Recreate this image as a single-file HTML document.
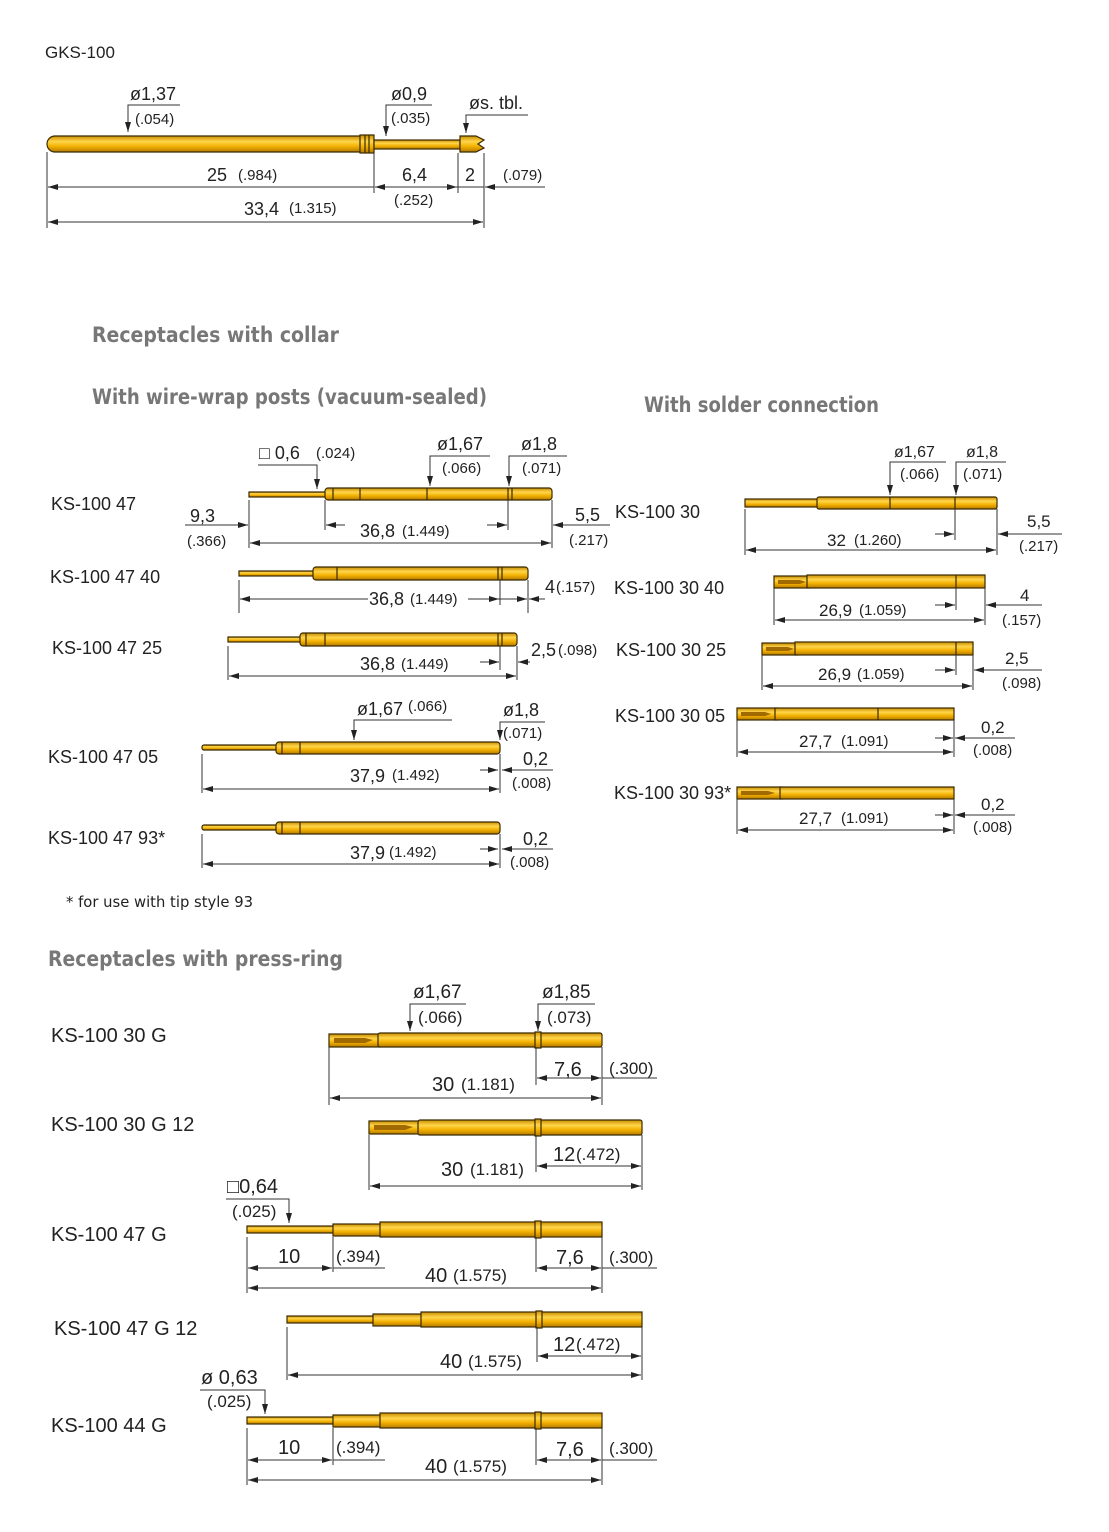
<!DOCTYPE html>
<html><head><meta charset="utf-8"><style>
body{margin:0;background:#fff}
svg{display:block}
text{font-family:"Liberation Sans","DejaVu Sans",sans-serif;fill:#222}
.t{font-size:18px}.p{font-size:15px}.l{font-size:18px}
.h{font-family:"DejaVu Sans","Liberation Sans",sans-serif;font-size:21px;fill:#777;font-weight:bold}
.d{stroke:#333;stroke-width:1;fill:none}
.g{fill:url(#gold);stroke:#3a2a00;stroke-width:1.2}
.k{stroke:#3a2a00;stroke-width:1.2}
</style></head><body>
<svg width="1109" height="1532" viewBox="0 0 1109 1532" xmlns="http://www.w3.org/2000/svg">
<defs>
<linearGradient id="gold" x1="0" y1="0" x2="0" y2="1">
<stop offset="0" stop-color="#c98c00"/><stop offset="0.35" stop-color="#ffd54a"/><stop offset="0.65" stop-color="#f2b000"/><stop offset="1" stop-color="#b57a00"/>
</linearGradient>
<marker id="a" viewBox="0 0 10 6" refX="10" refY="3" markerWidth="10" markerHeight="6" orient="auto-start-reverse" markerUnits="userSpaceOnUse"><path d="M0,0 L10,3 L0,6z" fill="#222"/></marker>
</defs>

<!-- GKS-100 -->
<text x="45" y="58" style="font-size:17px">GKS-100</text>
<path class="g" d="M55,136 H362 V152 H55 A8,8 0 0 1 55,136z"/>
<rect class="g" x="360" y="135" width="14" height="18"/>
<line class="k" x1="365" y1="135" x2="365" y2="153"/><line class="k" x1="369" y1="135" x2="369" y2="153"/>
<rect class="g" x="374" y="140" width="86" height="9"/>
<path class="g" d="M460,136 H476 L484,140 L478,144 L484,148 L476,152 H460z"/>
<text x="130" y="100" class="t">ø1,37</text><text x="135" y="124" class="p">(.054)</text>
<path class="d" d="M180,105 H128 V132" marker-end="url(#a)"/>
<text x="391" y="100" class="t">ø0,9</text><text x="391" y="123" class="p">(.035)</text>
<path class="d" d="M432,105 H386 V136" marker-end="url(#a)"/>
<text x="469" y="109" class="t">øs. tbl.</text>
<path class="d" d="M528,115 H466 V133" marker-end="url(#a)"/>
<path class="d" d="M47,152 V228 M374,153 V193 M458,153 V193 M484,153 V228"/>
<line class="d" x1="48" y1="187" x2="374" y2="187" marker-start="url(#a)"/>
<line class="d" x1="375" y1="187" x2="457" y2="187" marker-start="url(#a)" marker-end="url(#a)"/>
<line class="d" x1="440" y1="187" x2="484" y2="187"/>
<line class="d" x1="545" y1="187" x2="485" y2="187" marker-end="url(#a)"/>
<line class="d" x1="48" y1="222" x2="483" y2="222" marker-start="url(#a)" marker-end="url(#a)"/>
<text x="207" y="181" class="t">25</text><text x="238" y="180" class="p">(.984)</text>
<text x="402" y="181" class="t">6,4</text><text x="394" y="205" class="p">(.252)</text>
<text x="465" y="181" class="t">2</text><text x="503" y="180" class="p">(.079)</text>
<text x="244" y="215" class="t">33,4</text><text x="289" y="213" class="p">(1.315)</text>

<text x="92" y="342" class="h" textLength="247" lengthAdjust="spacingAndGlyphs">Receptacles with collar</text>
<text x="92" y="404" class="h" textLength="395" lengthAdjust="spacingAndGlyphs">With wire-wrap posts (vacuum-sealed)</text>
<text x="644" y="412" class="h" textLength="235" lengthAdjust="spacingAndGlyphs">With solder connection</text>

<!-- KS-100 47 -->
<text x="51" y="510" class="l">KS-100 47</text>
<rect class="g" x="249" y="492" width="78" height="5"/>
<rect class="g" x="325" y="488" width="227" height="12" rx="3"/>
<path class="k" d="M333,488 V500 M360,488 V500 M427,488 V500 M508,488 V500 M512,488 V500"/>
<text x="259" y="459" class="t">□ 0,6</text><text x="316" y="458" class="p">(.024)</text>
<path class="d" d="M258,465 H317 V489" marker-end="url(#a)"/>
<text x="437" y="450" class="t">ø1,67</text><text x="442" y="473" class="p">(.066)</text>
<path class="d" d="M490,456 H430 V486" marker-end="url(#a)"/>
<text x="521" y="450" class="t">ø1,8</text><text x="522" y="473" class="p">(.071)</text>
<path class="d" d="M567,456 H509 V486" marker-end="url(#a)"/>
<path class="d" d="M249,500 V548 M325,500 V530 M508,500 V530 M552,500 V548"/>
<line class="d" x1="185" y1="525" x2="248" y2="525" marker-end="url(#a)"/>
<line class="d" x1="326" y1="525" x2="345" y2="525" marker-start="url(#a)"/>
<line class="d" x1="487" y1="525" x2="507" y2="525" marker-end="url(#a)"/>
<line class="d" x1="610" y1="525" x2="553" y2="525" marker-end="url(#a)"/>
<line class="d" x1="250" y1="543" x2="551" y2="543" marker-start="url(#a)" marker-end="url(#a)"/>
<text x="190" y="522" class="t">9,3</text><text x="187" y="546" class="p">(.366)</text>
<text x="360" y="537" class="t">36,8</text><text x="402" y="536" class="p">(1.449)</text>
<text x="575" y="521" class="t">5,5</text><text x="569" y="545" class="p">(.217)</text>

<!-- KS-100 47 40 -->
<text x="50" y="583" class="l">KS-100 47 40</text>
<rect class="g" x="239" y="571" width="76" height="5"/>
<rect class="g" x="313" y="567" width="215" height="13" rx="3"/>
<path class="k" d="M337,567 V580 M498,567 V580 M502,567 V580"/>
<path class="d" d="M239,580 V613 M500,580 V605 M528,580 V613"/>
<line class="d" x1="240" y1="599" x2="527" y2="599" marker-start="url(#a)" marker-end="url(#a)"/>
<line class="d" x1="475" y1="599" x2="499" y2="599" marker-end="url(#a)"/>
<line class="d" x1="545" y1="599" x2="529" y2="599" marker-end="url(#a)"/>
<rect x="368" y="588" width="100" height="20" fill="#fff"/>
<text x="369" y="605" class="t">36,8</text><text x="410" y="604" class="p">(1.449)</text>
<text x="545" y="593" class="t">4</text><text x="556" y="592" class="p">(.157)</text>

<!-- KS-100 47 25 -->
<text x="52" y="654" class="l">KS-100 47 25</text>
<rect class="g" x="228" y="637" width="74" height="5"/>
<rect class="g" x="300" y="633" width="217" height="13" rx="3"/>
<path class="k" d="M306,633 V646 M325,633 V646 M498,633 V646 M502,633 V646"/>
<path class="d" d="M228,646 V680 M500,646 V670 M517,646 V680"/>
<line class="d" x1="229" y1="676" x2="516" y2="676" marker-start="url(#a)" marker-end="url(#a)"/>
<line class="d" x1="480" y1="662" x2="499" y2="662" marker-end="url(#a)"/>
<line class="d" x1="530" y1="662" x2="518" y2="662" marker-end="url(#a)"/>
<text x="360" y="670" class="t">36,8</text><text x="401" y="669" class="p">(1.449)</text>
<text x="531" y="656" class="t">2,5</text><text x="558" y="655" class="p">(.098)</text>

<!-- KS-100 47 05 -->
<text x="48" y="763" class="l">KS-100 47 05</text>
<rect class="g" x="202" y="745" width="76" height="5" rx="2"/>
<rect class="g" x="276" y="742" width="224" height="12" rx="3"/>
<path class="k" d="M282,742 V754 M300,742 V754"/>
<text x="357" y="715" class="t">ø1,67</text><text x="408" y="711" class="p">(.066)</text>
<path class="d" d="M452,720 H354 V740" marker-end="url(#a)"/>
<text x="503" y="716" class="t">ø1,8</text><text x="503" y="738" class="p">(.071)</text>
<path class="d" d="M545,722 H500 V740" marker-end="url(#a)"/>
<path class="d" d="M202,754 V793 M500,754 V793"/>
<line class="d" x1="203" y1="789" x2="499" y2="789" marker-start="url(#a)" marker-end="url(#a)"/>
<line class="d" x1="480" y1="770" x2="498" y2="770" marker-end="url(#a)"/>
<line class="d" x1="553" y1="770" x2="502" y2="770" marker-end="url(#a)"/>
<text x="350" y="782" class="t">37,9</text><text x="392" y="780" class="p">(1.492)</text>
<text x="523" y="765" class="t">0,2</text><text x="512" y="788" class="p">(.008)</text>

<!-- KS-100 47 93* -->
<text x="48" y="844" class="l">KS-100 47 93*</text>
<rect class="g" x="202" y="825" width="76" height="5" rx="2"/>
<rect class="g" x="276" y="822" width="224" height="12" rx="3"/>
<path class="k" d="M282,822 V834 M300,822 V834"/>
<path class="d" d="M202,834 V868 M500,834 V868"/>
<line class="d" x1="203" y1="864" x2="499" y2="864" marker-start="url(#a)" marker-end="url(#a)"/>
<line class="d" x1="480" y1="849" x2="498" y2="849" marker-end="url(#a)"/>
<line class="d" x1="553" y1="849" x2="502" y2="849" marker-end="url(#a)"/>
<text x="350" y="859" class="t">37,9</text><text x="389" y="857" class="p">(1.492)</text>
<text x="523" y="845" class="t">0,2</text><text x="510" y="867" class="p">(.008)</text>

<text x="66" y="907" style="font-size:15px;font-family:'DejaVu Sans',sans-serif" textLength="187" lengthAdjust="spacingAndGlyphs">* for use with tip style 93</text>

<!-- Solder: KS-100 30 -->
<text x="615" y="518" class="l">KS-100 30</text>
<rect class="g" x="745" y="499" width="74" height="8"/>
<rect class="g" x="817" y="497" width="180" height="12" rx="2"/>
<path class="k" d="M890,497 V509 M955,497 V509"/>
<text x="894" y="457" class="p" style="font-size:16px">ø1,67</text><text x="900" y="479" class="p">(.066)</text>
<path class="d" d="M946,462 H890 V495" marker-end="url(#a)"/>
<text x="966" y="457" class="p" style="font-size:16px">ø1,8</text><text x="963" y="479" class="p">(.071)</text>
<path class="d" d="M1006,462 H956 V495" marker-end="url(#a)"/>
<path class="d" d="M745,509 V555 M955,509 V540 M997,509 V555"/>
<line class="d" x1="746" y1="550" x2="996" y2="550" marker-start="url(#a)" marker-end="url(#a)"/>
<line class="d" x1="935" y1="534" x2="954" y2="534" marker-end="url(#a)"/>
<line class="d" x1="1062" y1="534" x2="998" y2="534" marker-end="url(#a)"/>
<text x="827" y="546" class="p" style="font-size:17px">32</text><text x="854" y="545" class="p">(1.260)</text>
<text x="1027" y="527" class="p" style="font-size:17px">5,5</text><text x="1019" y="551" class="p">(.217)</text>

<!-- KS-100 30 40 -->
<text x="614" y="594" class="l">KS-100 30 40</text>
<rect class="g" x="774" y="576" width="35" height="12"/>
<path d="M778,580 H800 L806,582 L800,584 H778z" fill="#a06a00"/>
<rect class="g" x="807" y="575" width="178" height="13"/>
<path class="k" d="M956,575 V588"/>
<path class="d" d="M774,588 V625 M956,588 V610 M985,588 V625"/>
<line class="d" x1="775" y1="620" x2="984" y2="620" marker-start="url(#a)" marker-end="url(#a)"/>
<line class="d" x1="935" y1="605" x2="955" y2="605" marker-end="url(#a)"/>
<line class="d" x1="1042" y1="605" x2="986" y2="605" marker-end="url(#a)"/>
<text x="819" y="616" class="p" style="font-size:17px">26,9</text><text x="859" y="615" class="p">(1.059)</text>
<text x="1020" y="601" class="p" style="font-size:17px">4</text><text x="1002" y="625" class="p">(.157)</text>

<!-- KS-100 30 25 -->
<text x="616" y="656" class="l">KS-100 30 25</text>
<rect class="g" x="762" y="643" width="35" height="12"/>
<path d="M766,647 H788 L794,649 L788,651 H766z" fill="#a06a00"/>
<rect class="g" x="795" y="642" width="178" height="13"/>
<path class="k" d="M956,642 V655"/>
<path class="d" d="M762,655 V690 M956,655 V675 M973,655 V690"/>
<line class="d" x1="763" y1="686" x2="972" y2="686" marker-start="url(#a)" marker-end="url(#a)"/>
<line class="d" x1="935" y1="670" x2="955" y2="670" marker-end="url(#a)"/>
<line class="d" x1="1042" y1="670" x2="974" y2="670" marker-end="url(#a)"/>
<text x="818" y="680" class="p" style="font-size:17px">26,9</text><text x="857" y="679" class="p">(1.059)</text>
<text x="1005" y="664" class="p" style="font-size:17px">2,5</text><text x="1002" y="688" class="p">(.098)</text>

<!-- KS-100 30 05 -->
<text x="615" y="722" class="l">KS-100 30 05</text>
<rect class="g" x="737" y="708" width="40" height="12"/>
<path d="M741,712 H765 L771,714 L765,716 H741z" fill="#a06a00"/>
<rect class="g" x="775" y="708" width="179" height="12"/>
<path class="k" d="M878,708 V720"/>
<path class="d" d="M737,720 V757 M954,720 V757"/>
<line class="d" x1="738" y1="752" x2="953" y2="752" marker-start="url(#a)" marker-end="url(#a)"/>
<line class="d" x1="935" y1="738" x2="953" y2="738" marker-end="url(#a)"/>
<line class="d" x1="1015" y1="738" x2="955" y2="738" marker-end="url(#a)"/>
<text x="799" y="747" class="p" style="font-size:17px">27,7</text><text x="841" y="746" class="p">(1.091)</text>
<text x="981" y="733" class="p" style="font-size:17px">0,2</text><text x="973" y="755" class="p">(.008)</text>

<!-- KS-100 30 93* -->
<text x="614" y="799" class="l">KS-100 30 93*</text>
<rect class="g" x="737" y="787" width="45" height="12"/>
<path d="M741,791 H768 L775,793 L768,795 H741z" fill="#a06a00"/>
<rect class="g" x="780" y="787" width="174" height="12"/>
<path class="d" d="M737,799 V834 M954,799 V834"/>
<line class="d" x1="738" y1="830" x2="953" y2="830" marker-start="url(#a)" marker-end="url(#a)"/>
<line class="d" x1="935" y1="815" x2="953" y2="815" marker-end="url(#a)"/>
<line class="d" x1="1015" y1="815" x2="955" y2="815" marker-end="url(#a)"/>
<text x="799" y="824" class="p" style="font-size:17px">27,7</text><text x="841" y="823" class="p">(1.091)</text>
<text x="981" y="810" class="p" style="font-size:17px">0,2</text><text x="973" y="832" class="p">(.008)</text>

<text x="48" y="966" class="h" textLength="295" lengthAdjust="spacingAndGlyphs">Receptacles with press-ring</text>

<!-- KS-100 30 G -->
<text x="51" y="1042" class="l" style="font-size:20px">KS-100 30 G</text>
<rect class="g" x="329" y="1034" width="51" height="13"/>
<path d="M334,1038 H365 L373,1040 L365,1043 H334z" fill="#a06a00"/>
<rect class="g" x="378" y="1033" width="224" height="14" rx="2"/>
<rect class="g" x="535" y="1032" width="6" height="16"/>
<text x="413" y="998" class="t" style="font-size:19px">ø1,67</text><text x="418" y="1023" class="t" style="font-size:17px">(.066)</text>
<path class="d" d="M466,1004 H410 V1031" marker-end="url(#a)"/>
<text x="542" y="998" class="t" style="font-size:19px">ø1,85</text><text x="547" y="1023" class="t" style="font-size:17px">(.073)</text>
<path class="d" d="M595,1004 H538 V1031" marker-end="url(#a)"/>
<path class="d" d="M329,1047 V1105 M536,1047 V1085 M602,1047 V1105"/>
<line class="d" x1="537" y1="1078" x2="601" y2="1078" marker-start="url(#a)" marker-end="url(#a)"/>
<line class="d" x1="602" y1="1078" x2="657" y2="1078"/>
<line class="d" x1="330" y1="1098" x2="601" y2="1098" marker-start="url(#a)" marker-end="url(#a)"/>
<text x="554" y="1076" class="t" style="font-size:20px">7,6</text><text x="609" y="1074" class="t" style="font-size:17px">(.300)</text>
<text x="432" y="1091" class="t" style="font-size:20px">30</text><text x="461" y="1090" class="t" style="font-size:17px">(1.181)</text>

<!-- KS-100 30 G 12 -->
<text x="51" y="1131" class="l" style="font-size:20px">KS-100 30 G 12</text>
<rect class="g" x="369" y="1121" width="51" height="13"/>
<path d="M374,1125 H405 L413,1127 L405,1130 H374z" fill="#a06a00"/>
<rect class="g" x="418" y="1120" width="224" height="15" rx="2"/>
<rect class="g" x="535" y="1119" width="6" height="17"/>
<path class="d" d="M369,1135 V1190 M536,1135 V1172 M642,1135 V1190"/>
<line class="d" x1="537" y1="1166" x2="641" y2="1166" marker-start="url(#a)" marker-end="url(#a)"/>
<line class="d" x1="370" y1="1186" x2="641" y2="1186" marker-start="url(#a)" marker-end="url(#a)"/>
<text x="553" y="1161" class="t" style="font-size:20px">12</text><text x="576" y="1160" class="t" style="font-size:17px">(.472)</text>
<text x="441" y="1176" class="t" style="font-size:20px">30</text><text x="470" y="1175" class="t" style="font-size:17px">(1.181)</text>

<!-- KS-100 47 G -->
<text x="51" y="1241" class="l" style="font-size:20px">KS-100 47 G</text>
<rect class="g" x="247" y="1226" width="88" height="7"/>
<rect class="g" x="333" y="1224" width="49" height="12"/>
<rect class="g" x="380" y="1222" width="222" height="15"/>
<rect class="g" x="535" y="1221" width="6" height="17"/>
<text x="227" y="1193" class="t" style="font-size:20px">□0,64</text><text x="232" y="1217" class="t" style="font-size:17px">(.025)</text>
<path class="d" d="M226,1199 H289 V1223" marker-end="url(#a)"/>
<path class="d" d="M247,1237 V1293 M333,1237 V1272 M536,1237 V1272 M602,1237 V1293"/>
<line class="d" x1="248" y1="1268" x2="332" y2="1268" marker-start="url(#a)" marker-end="url(#a)"/>
<line class="d" x1="333" y1="1268" x2="385" y2="1268"/>
<line class="d" x1="537" y1="1268" x2="601" y2="1268" marker-start="url(#a)" marker-end="url(#a)"/>
<line class="d" x1="602" y1="1268" x2="657" y2="1268"/>
<line class="d" x1="248" y1="1288" x2="601" y2="1288" marker-start="url(#a)" marker-end="url(#a)"/>
<text x="278" y="1263" class="t" style="font-size:20px">10</text><text x="336" y="1262" class="t" style="font-size:17px">(.394)</text>
<text x="556" y="1264" class="t" style="font-size:20px">7,6</text><text x="609" y="1263" class="t" style="font-size:17px">(.300)</text>
<text x="425" y="1282" class="t" style="font-size:20px">40</text><text x="453" y="1281" class="t" style="font-size:17px">(1.575)</text>

<!-- KS-100 47 G 12 -->
<text x="54" y="1335" class="l" style="font-size:20px">KS-100 47 G 12</text>
<rect class="g" x="287" y="1316" width="88" height="7"/>
<rect class="g" x="373" y="1314" width="50" height="12"/>
<rect class="g" x="421" y="1312" width="221" height="15"/>
<rect class="g" x="536" y="1311" width="6" height="17"/>
<path class="d" d="M287,1327 V1380 M537,1327 V1362 M642,1327 V1380"/>
<line class="d" x1="538" y1="1356" x2="641" y2="1356" marker-start="url(#a)" marker-end="url(#a)"/>
<line class="d" x1="288" y1="1375" x2="641" y2="1375" marker-start="url(#a)" marker-end="url(#a)"/>
<text x="553" y="1351" class="t" style="font-size:20px">12</text><text x="576" y="1350" class="t" style="font-size:17px">(.472)</text>
<text x="440" y="1368" class="t" style="font-size:20px">40</text><text x="468" y="1367" class="t" style="font-size:17px">(1.575)</text>

<!-- KS-100 44 G -->
<text x="51" y="1432" class="l" style="font-size:20px">KS-100 44 G</text>
<rect class="g" x="247" y="1417" width="88" height="7"/>
<rect class="g" x="333" y="1415" width="49" height="12"/>
<rect class="g" x="380" y="1413" width="222" height="15"/>
<rect class="g" x="535" y="1412" width="6" height="17"/>
<text x="201" y="1384" class="t" style="font-size:20px">ø 0,63</text><text x="207" y="1407" class="t" style="font-size:17px">(.025)</text>
<path class="d" d="M200,1390 H265 V1414" marker-end="url(#a)"/>
<path class="d" d="M247,1428 V1485 M333,1428 V1465 M536,1428 V1465 M602,1428 V1485"/>
<line class="d" x1="248" y1="1460" x2="332" y2="1460" marker-start="url(#a)" marker-end="url(#a)"/>
<line class="d" x1="333" y1="1460" x2="385" y2="1460"/>
<line class="d" x1="537" y1="1460" x2="601" y2="1460" marker-start="url(#a)" marker-end="url(#a)"/>
<line class="d" x1="602" y1="1460" x2="657" y2="1460"/>
<line class="d" x1="248" y1="1480" x2="601" y2="1480" marker-start="url(#a)" marker-end="url(#a)"/>
<text x="278" y="1454" class="t" style="font-size:20px">10</text><text x="336" y="1453" class="t" style="font-size:17px">(.394)</text>
<text x="556" y="1456" class="t" style="font-size:20px">7,6</text><text x="609" y="1454" class="t" style="font-size:17px">(.300)</text>
<text x="425" y="1473" class="t" style="font-size:20px">40</text><text x="453" y="1472" class="t" style="font-size:17px">(1.575)</text>
</svg>
</body></html>
